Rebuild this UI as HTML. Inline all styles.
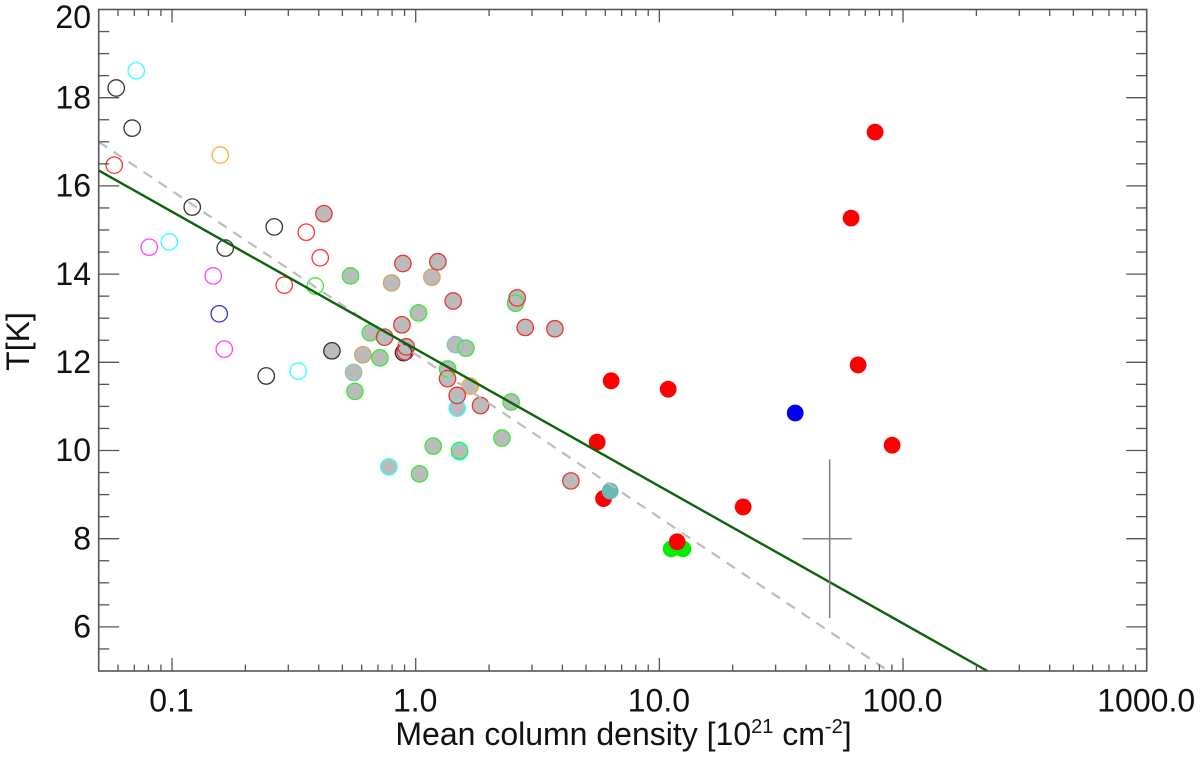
<!DOCTYPE html>
<html lang="en">
<head>
<meta charset="utf-8">
<title>Temperature vs mean column density</title>
<style>
html,body{margin:0;padding:0;background:#fff;width:1200px;height:759px;overflow:hidden}
svg{display:block}
text{font-family:"Liberation Sans",sans-serif;fill:#111}
</style>
</head>
<body>
<svg id="chart" xmlns="http://www.w3.org/2000/svg" width="1200" height="759" viewBox="0 0 1200 759">
  <rect x="0" y="0" width="1200" height="759" fill="#fff"/>
  <g id="discs"></g>
  <g id="rings"></g>
  <g id="solids"></g>
  <g id="fits"></g>
  <g id="errorbar"></g>
  <g id="axes"></g>
  <text x="623.5" y="745" font-size="32" text-anchor="middle">Mean column density [10<tspan font-size="20" dy="-12">21</tspan><tspan dy="12"> cm</tspan><tspan font-size="20" dy="-12">-2</tspan><tspan dy="12">]</tspan></text>
  <text transform="translate(29,341.5) rotate(-90)" font-size="32" text-anchor="middle">T[K]</text>
</svg>
<script>
// Axis ranges
const xDomain = [0.05, 1000];
const yDomain = [5, 20];
// Tick values and labels
const xTickValues = [0.1, 1, 10, 100, 1000];
const xTickLabels = ["0.1", "1.0", "10.0", "100.0", "1000.0"];
const yTickValues = [6, 8, 10, 12, 14, 16, 18, 20];
const yTickLabels = ["6", "8", "10", "12", "14", "16", "18", "20"];

// Open rings
const openCyanX = [0.0713, 0.0974, 0.3295];
const openCyanT = [18.61, 14.73, 11.80];
const openBlackX = [0.0590, 0.0686, 0.1210, 0.1653, 0.2627, 0.2435];
const openBlackT = [18.22, 17.31, 15.52, 14.59, 15.07, 11.69];
const openOrangeX = [0.1577];
const openOrangeT = [16.70];
const openRedX = [0.0579, 0.3554, 0.4056, 0.2887];
const openRedT = [16.47, 14.95, 14.37, 13.75];
const openMagentaX = [0.0806, 0.1476, 0.1638];
const openMagentaT = [14.61, 13.96, 12.30];
const openBlueX = [0.1562];
const openBlueT = [13.10];
const openGreenX = [0.3869];
const openGreenT = [13.73];

// Gray-filled points, by ring colour
const grayRedX = [0.420, 0.886, 1.233, 1.425, 2.609, 2.815, 3.726, 0.878, 0.745, 0.914, 0.906, 1.351, 1.480, 1.845, 4.334];
const grayRedT = [15.37, 14.24, 14.28, 13.39, 13.46, 12.79, 12.76, 12.85, 12.57, 12.35, 12.24, 11.63, 11.25, 11.02, 9.31];
const grayGreenX = [0.540, 2.568, 1.027, 0.651, 0.713, 0.563, 1.607, 1.351, 2.465, 2.258, 1.180, 1.513, 1.037];
const grayGreenT = [13.96, 13.34, 13.12, 12.67, 12.10, 11.34, 12.32, 11.85, 11.10, 10.28, 10.10, 10.00, 9.47];
const grayTanX = [0.796, 1.165, 0.607];
const grayTanT = [13.80, 13.93, 12.17];
const grayOrangeX = [1.673];
const grayOrangeT = [11.46];
const grayTealX = [0.556, 1.456];
const grayTealT = [11.77, 12.40];
const grayCyanX = [1.480, 1.513, 0.776];
const grayCyanT = [10.96, 9.97, 9.63];
const grayBlackX = [0.453, 0.891];
const grayBlackT = [12.26, 12.22];

// Solid points
const solidGreenX = [11.18, 12.49];
const solidGreenT = [7.77, 7.77];
const solidRedX = [6.34, 10.87, 5.556, 22.07, 76.8, 61.2, 65.4, 90.2, 5.90, 11.83];
const solidRedT = [11.58, 11.39, 10.19, 8.72, 17.22, 15.27, 11.94, 10.12, 8.91, 7.93];
const solidBlueX = [36.1];
const solidBlueT = [10.85];
const solidTealX = [6.28];
const solidTealT = [9.08];

// Fit lines
const greenFitX = [0.05, 222];
const greenFitT = [16.35, 5];
const dashedFitX = [0.05, 87];
const dashedFitT = [17.0, 5];

// Representative error bar
const errCentreX = [50];
const errCentreT = [8];
const errXRange = [38.7, 61.6];
const errTRange = [6.2, 9.8];

const NS = "http://www.w3.org/2000/svg";
const plotLeft = 98.7, plotRight = 1146.7, plotTop = 9.5, plotBottom = 671;
function xScale(v) {
  const a = Math.log10(xDomain[0]), b = Math.log10(xDomain[1]);
  return plotLeft + (Math.log10(v) - a) / (b - a) * (plotRight - plotLeft);
}
function yScale(v) {
  return plotBottom - (v - yDomain[0]) / (yDomain[1] - yDomain[0]) * (plotBottom - plotTop);
}
function make(tag, parent, attrs) {
  const el = document.createElementNS(NS, tag);
  for (const k in attrs) el.setAttribute(k, attrs[k]);
  parent.appendChild(el);
  return el;
}
function drawRing(parent, xs, ts, color, name) {
  xs.forEach(function (x, i) {
    const el = make("circle", parent, {cx: xScale(x), cy: yScale(ts[i]), r: 8.2, fill: "none", stroke: color, "stroke-width": 1.3});
    
    
  });
}
function drawDisc(parent, xs, ts, color, r, name) {
  xs.forEach(function (x, i) {
    const el = make("circle", parent, {cx: xScale(x), cy: yScale(ts[i]), r: r, fill: color});
    
    
  });
}
const discs = document.getElementById("discs");
const rings = document.getElementById("rings");
const solids = document.getElementById("solids");
const GRAY = "#bbbbbb";

[[grayRedX, grayRedT], [grayGreenX, grayGreenT], [grayTanX, grayTanT], [grayOrangeX, grayOrangeT],
 [grayTealX, grayTealT], [grayCyanX, grayCyanT], [grayBlackX, grayBlackT]].forEach(function (p) {
  drawDisc(discs, p[0], p[1], GRAY, 8, "gray-point-fill");
});

drawRing(rings, openCyanX, openCyanT, "#33ffff", "open-cyan-point");
drawRing(rings, openBlackX, openBlackT, "#333333", "open-black-point");
drawRing(rings, openOrangeX, openOrangeT, "#ffb040", "open-orange-point");
drawRing(rings, openRedX, openRedT, "#ff3333", "open-red-point");
drawRing(rings, openMagentaX, openMagentaT, "#ff44ff", "open-magenta-point");
drawRing(rings, openBlueX, openBlueT, "#3333dd", "open-blue-point");
drawRing(rings, openGreenX, openGreenT, "#33ee33", "open-green-point");
drawRing(rings, grayTealX, grayTealT, "#88c4c4", "gray-teal-point");
drawRing(rings, grayCyanX, grayCyanT, "#33ffff", "gray-cyan-point");
drawRing(rings, grayTanX, grayTanT, "#d8a068", "gray-tan-point");
drawRing(rings, grayOrangeX, grayOrangeT, "#ffaa22", "gray-orange-point");
drawRing(rings, grayBlackX, grayBlackT, "#333333", "gray-black-point");
drawRing(rings, grayGreenX, grayGreenT, "#33ee33", "gray-green-point");
drawRing(rings, grayRedX, grayRedT, "#ee3333", "gray-red-point");

drawDisc(solids, solidGreenX, solidGreenT, "#00ee00", 8.4, "solid-green-point");
drawDisc(solids, solidRedX, solidRedT, "#ff0000", 8.4, "solid-red-point");
drawDisc(solids, solidBlueX, solidBlueT, "#0000ee", 8.4, "solid-blue-point");
drawDisc(solids, solidTealX, solidTealT, "#6cb8b4", 8.4, "solid-teal-point");

const fits = document.getElementById("fits");
const dashedLine = make("line", fits, {x1: xScale(dashedFitX[0]), y1: yScale(dashedFitT[0]), x2: xScale(dashedFitX[1]), y2: yScale(dashedFitT[1]), stroke: "#bdbdbd", "stroke-width": 2.2, "stroke-dasharray": "10 8"});


const greenLine = make("line", fits, {x1: xScale(greenFitX[0]), y1: yScale(greenFitT[0]), x2: xScale(greenFitX[1]), y2: yScale(greenFitT[1]), stroke: "#0b640b", "stroke-width": 2.4});



const errG = document.getElementById("errorbar");
const errV = make("line", errG, {x1: xScale(errCentreX[0]), y1: yScale(errTRange[0]), x2: xScale(errCentreX[0]), y2: yScale(errTRange[1]), stroke: "#808080", "stroke-width": 1.5});


const errH = make("line", errG, {x1: xScale(errXRange[0]), y1: yScale(errCentreT[0]), x2: xScale(errXRange[1]), y2: yScale(errCentreT[0]), stroke: "#808080", "stroke-width": 1.5});



const axes = document.getElementById("axes");
const AXIS = "#555555";
function tick(x1, y1, x2, y2, name) {
  const el = make("line", axes, {x1: x1, y1: y1, x2: x2, y2: y2, stroke: AXIS, "stroke-width": 1.3});
  
  
}
// x ticks: every integer multiple within each decade
for (let e = -2; e <= 3; e++) {
  for (let m = 1; m <= 9; m++) {
    const v = m * Math.pow(10, e);
    if (v < xDomain[0] * 1.001 || v > xDomain[1] * 1.001) continue;
    const px = xScale(v);
    const len = m === 1 ? 13 : 6.5;
    tick(px, plotBottom, px, plotBottom - len, "x-tick");
    tick(px, plotTop, px, plotTop + len, "x-tick-top");
  }
}
// y ticks: minor every 0.5, major at labelled values
for (let k = yDomain[0] * 2 + 1; k < yDomain[1] * 2; k++) {
  const v = k / 2;
  const py = yScale(v);
  const len = yTickValues.indexOf(v) >= 0 ? 20.5 : 10.5;
  tick(plotLeft, py, plotLeft + len, py, "y-tick");
  tick(plotRight, py, plotRight - len, py, "y-tick-right");
}
const frame = make("rect", axes, {x: plotLeft, y: plotTop, width: plotRight - plotLeft, height: plotBottom - plotTop, fill: "none", stroke: AXIS, "stroke-width": 1.6});



xTickValues.forEach(function (v, i) {
  const t = make("text", axes, {x: xScale(v) - 0.5, y: 711.7, "font-size": 32, "text-anchor": "middle"});
  t.textContent = xTickLabels[i];
  
  
});
yTickValues.forEach(function (v, i) {
  // the topmost label sits lower so it stays inside the page
  const t = make("text", axes, {x: 91, y: Math.max(yScale(v) + 10.7, 28), "font-size": 32, "text-anchor": "end"});
  t.textContent = yTickLabels[i];
  
  
});
</script>
</body>
</html>
